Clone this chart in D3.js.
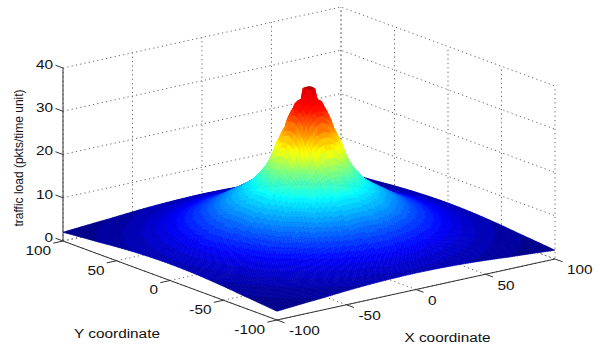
<!DOCTYPE html>
<html>
<head>
<meta charset="utf-8">
<script src="https://cdn.jsdelivr.net/npm/d3@7"></script>
<style>
html, body { margin: 0; background: #fff; }
text { font-family: "Liberation Sans", Arial, sans-serif; font-size: 12px; fill: #111; }
</style>
</head>
<body>
<div id="chart"></div>
<script>
// values
const xTicks = [-100, -50, 0, 50, 100];
const yTicks = [100, 50, 0, -50, -100];
const zTicks = [0, 10, 20, 30, 40];
// load against distance from the centre of the square, the peak is terraced
const ringRadius = [0, 3.8, 4.4, 7.8, 8.4, 10, 10.6, 13, 13.6, 16, 16.6, 18, 21, 24.5, 27, 34, 40, 50, 60, 76, 88, 100, 120, 142];
const ringLoad = [37.6, 37.3, 34.6, 34, 33, 32.2, 31.6, 29.6, 28.4, 26.8, 26, 25.2, 22, 19.2, 18, 15, 13.4, 11.2, 9, 6.4, 4.9, 3.8, 2.8, 2.0];
const xLabel = "X coordinate";
const yLabel = "Y coordinate";
const zLabel = "traffic load (pkts/time unit)";

const svg = d3.select("#chart").append("svg").attr("width", 600).attr("height", 350);

// oblique view: screen offset of each data axis, starts at the front corner
const xToPx = d3.scaleLinear().domain([-100, 100]).range([0, 278]);
const xToPy = d3.scaleLinear().domain([-100, 100]).range([0, -61]);
const yToPx = d3.scaleLinear().domain([-100, 100]).range([0, -214]);
const yToPy = d3.scaleLinear().domain([-100, 100]).range([0, -79]);
const zToPy = d3.scaleLinear().domain([0, 40]).range([0, -173]);
const project = (x, y, z) => [277 + xToPx(x) + yToPx(y), 320 + xToPy(x) + yToPy(y) + zToPy(z)];

const line = d3.line();
const addLine = (pts, stroke, dash) => svg.append("path")
    .attr("d", line(pts))
    .attr("fill", "none")
    .attr("stroke", stroke)
    .attr("stroke-width", 1)
    .attr("stroke-dasharray", dash);

// grid on the two back walls and the floor
const gridColor = "#666";
const gridDash = "1.2 3.2";
xTicks.forEach(x => {
    addLine([project(x, -100, 0), project(x, 100, 0), project(x, 100, 40)], gridColor, gridDash);
});
yTicks.forEach(y => {
    addLine([project(-100, y, 0), project(100, y, 0), project(100, y, 40)], gridColor, gridDash);
});
zTicks.forEach(z => {
    addLine([project(-100, 100, z), project(100, 100, z), project(100, -100, z)], gridColor, gridDash);
});

// axis lines and tick marks
const axisColor = "#333";
addLine([project(-100, 100, 0), project(-100, 100, 40)], axisColor);
addLine([project(-100, 100, 0), project(-100, -100, 0)], axisColor);
addLine([project(-100, -100, 0), project(100, -100, 0)], axisColor);
zTicks.forEach(z => addLine([project(-100, 100, z), project(-100, 107, z)], axisColor));
yTicks.forEach(y => addLine([project(-100, y, 0), project(-107, y, 0)], axisColor));
xTicks.forEach(x => addLine([project(x, -100, 0), project(x, -107, 0)], axisColor));

// surface: jet colormap in flat levels, only the very top goes dark red
const jet = d3.scaleLinear()
    .domain([0, 0.125, 0.375, 0.625, 0.875, 0.95, 1])
    .range(["#000080", "#0000ff", "#00ffff", "#ffff00", "#ff0000", "#f00000", "#a00000"])
    .clamp(true);
const loadAt = d3.scaleLinear().domain(ringRadius).range(ringLoad);
const level = d3.scaleQuantize().domain([2, 38]).range(d3.range(48).map(i => jet((i + 0.5) / 48)));

const step = 1.6;
const nCells = 125;
const cells = [];
// back corner first, so nearer cells paint over farther ones
d3.range(nCells).forEach(i => {
    const x = 100 - (i + 1) * step;
    d3.range(nCells).forEach(j => {
        const y = 100 - (j + 1) * step;
        const corners = [[x, y], [x + step, y], [x + step, y + step], [x, y + step]];
        const loads = corners.map(c => loadAt(Math.hypot(c[0], c[1])));
        cells.push({ pts: corners.map((c, k) => project(c[0], c[1], loads[k])), load: d3.mean(loads) });
    });
});
svg.append("g").selectAll("path")
    .data(cells)
    .enter()
    .append("path")
    .attr("d", d => line(d.pts) + "Z")
    .attr("fill", d => level(d.load))
    .attr("stroke", d => level(d.load))
    .attr("stroke-width", 0.6);

// labels are wider than normal in the picture
const stretch = 1.28;
const addLabel = (pos, str, anchor) => svg.append("text")
    .attr("transform", `translate(${pos[0]},${pos[1]}) scale(${stretch},1)`)
    .attr("text-anchor", anchor)
    .attr("dominant-baseline", "central")
    .text(str);

zTicks.forEach(z => {
    const p = project(-100, 100, z);
    addLabel([p[0] - 10, p[1] - 3], z, "end");
});
yTicks.forEach(y => {
    const p = project(-100, y, 0);
    addLabel([p[0] - 12, p[1] + 10], y, "end");
});
xTicks.forEach(x => {
    const p = project(x, -100, 0);
    addLabel([p[0] + 12, p[1] + 11.5], x, "start");
});
addLabel([117, 334], yLabel, "middle");
addLabel([447.5, 338], xLabel, "middle");

svg.append("text")
    .attr("transform", "translate(19,158) rotate(-90)")
    .attr("text-anchor", "middle")
    .attr("dominant-baseline", "central")
    .text(zLabel);
</script>
</body>
</html>
